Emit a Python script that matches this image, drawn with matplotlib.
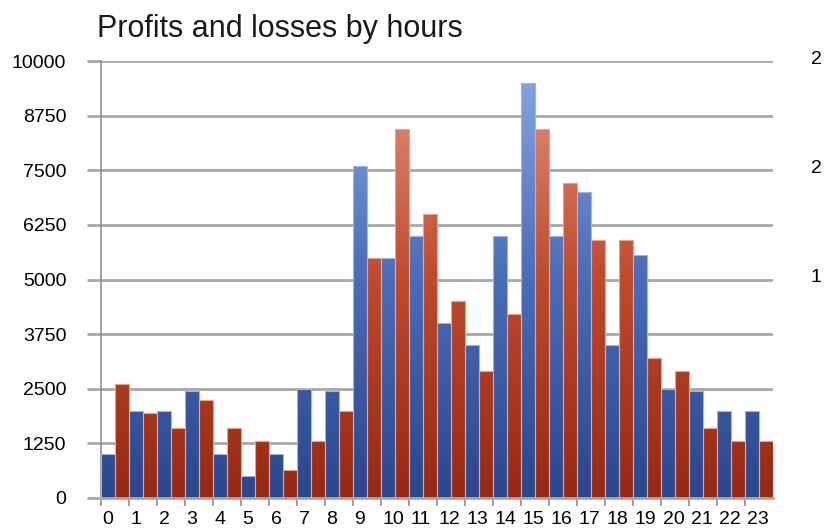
import numpy as np
import matplotlib
matplotlib.use("Agg")
from matplotlib import pyplot as plt
from matplotlib.colors import LinearSegmentedColormap
from matplotlib.transforms import ScaledTranslation

hours = [str(h) for h in range(24)]
profits = [1000, 2000, 2000, 2450, 1000, 500, 1000, 2500, 2450, 7600, 5500, 6000,
           4000, 3500, 6000, 9500, 6000, 7000, 3500, 5550, 2500, 2450, 2000, 2000]
losses = [2600, 1950, 1600, 2250, 1600, 1300, 650, 1300, 2000, 5500, 8450, 6500,
          4500, 2900, 4200, 8450, 7200, 5900, 5900, 3200, 2900, 1600, 1300, 1300]
yticks = [0, 1250, 2500, 3750, 5000, 6250, 7500, 8750, 10000]
# secondary axis labels, only their first digit fits inside the picture
right_ticks = [10000, 7500, 5000]
right_labels = ["2", "2", "1"]

plt.rcParams['font.family'] = ['Liberation Sans', 'DejaVu Sans']

fig = plt.figure(figsize=(8.25, 5.3), dpi=100)
ax = fig.add_axes([101 / 825, 1 - 498 / 530, 672 / 825, 437 / 530])

grid_c = '#a8a8a8'
ax.set_ylim(0, 10000)
ax.set_xlim(0, 24)
ax.set_yticks(yticks)
ax.set_yticklabels([str(v) for v in yticks], fontsize=14)
ax.yaxis.grid(True, color=grid_c, lw=2)
ax.set_axisbelow(True)
ax.tick_params(axis='y', length=10, width=2, color=grid_c, pad=15)

x = np.arange(24)
ax.set_xticks(x)
ax.set_xticklabels(hours, fontsize=14, ha='left')
ax.tick_params(axis='x', length=6, width=1.2, color='#909090', pad=3)
off = ScaledTranslation(1.5 / 100, 0, fig.dpi_scale_trans)
for lab in ax.get_xticklabels():
    lab.set_transform(lab.get_transform() + off)

for s in ['top', 'right']:
    ax.spines[s].set_visible(False)
ax.spines['left'].set_color('#909090')
ax.spines['left'].set_linewidth(1.2)
ax.spines['bottom'].set_color(grid_c)
ax.spines['bottom'].set_linewidth(2)

blue_cm = LinearSegmentedColormap.from_list('b', ['#2a468c', '#4a6cb8', '#8aa8e2'])
red_cm = LinearSegmentedColormap.from_list('r', ['#962810', '#bf4a2c', '#e4957e'])
grad = np.linspace(0, 1, 256).reshape(-1, 1)

def grad_bars(xs, vals, cmap, edge):
    bars = ax.bar(xs, vals, width=0.5, align='edge', facecolor='none',
                  edgecolor=edge, linewidth=0.8, zorder=3)
    for b in bars:
        im = ax.imshow(grad, cmap=cmap, origin='lower', aspect='auto',
                       extent=[b.get_x(), b.get_x() + b.get_width(), 0, 10000],
                       zorder=2)
        im.set_clip_path(b)
    return bars

grad_bars(x, profits, blue_cm, '#9db4ea')
grad_bars(x + 0.5, losses, red_cm, '#eea088')
ax.set_xlim(0, 24)
ax.set_ylim(0, 10000)

ax2 = ax.twinx()
ax2.set_ylim(0, 10000)
ax2.set_yticks(right_ticks)
ax2.set_yticklabels(right_labels, fontsize=14)
ax2.tick_params(axis='y', length=0, pad=27)
up = ScaledTranslation(0, 4 / 100, fig.dpi_scale_trans)
for lab in ax2.get_yticklabels():
    lab.set_transform(lab.get_transform() + up)
for s in ax2.spines.values():
    s.set_visible(False)

fig.text(97 / 825, 1 - 29 / 530, 'Profits and losses by hours', fontsize=22,
         va='center', ha='left', color='#1a1a1a')

fig.savefig('out.png', dpi=100)
